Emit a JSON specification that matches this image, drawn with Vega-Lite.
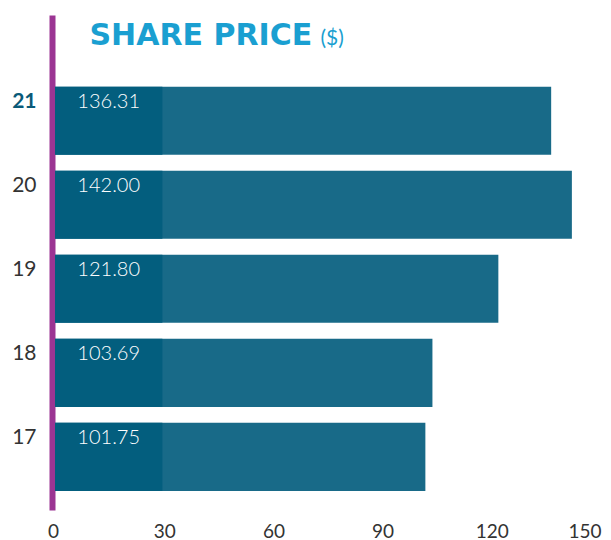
{
  "$schema": "https://vega.github.io/schema/vega-lite/v6.json",
  "autosize": {"type": "none"},
  "width": 546,
  "height": 495,
  "padding": {"left": 55, "top": 15, "right": 10, "bottom": 30},
  "background": "white",
  "config": {
    "view": {"stroke": null},
    "font": "Lato"
  },
  "data": {
    "values": [
      {"year": "21", "price": 136.31},
      {"year": "20", "price": 142.00},
      {"year": "19", "price": 121.80},
      {"year": "18", "price": 103.69},
      {"year": "17", "price": 101.75}
    ]
  },
  "encoding": {
    "y": {
      "field": "year",
      "type": "nominal",
      "sort": null,
      "scale": {"paddingInner": 0.19, "paddingOuter": 0.54, "align": 0.79},
      "axis": {
        "title": "($)",
        "titleAngle": 0,
        "titleX": 268,
        "titleY": 29,
        "titleAlign": "left",
        "titleBaseline": "alphabetic",
        "titleFont": "Lato",
        "titleFontSize": 21,
        "titleFontWeight": "normal",
        "titleColor": "#1a9fd1",
        "offset": 3,
        "domainColor": "#9b3593",
        "domainWidth": 6,
        "ticks": false,
        "tickSize": 0,
        "labelPadding": 16,
        "labelOffset": -19,
        "labelFontSize": 21,
        "labelFont": "Lato",
        "labelColor": {"condition": {"test": "datum.value == '21'", "value": "#0a5a78"}, "value": "#333333"},
        "labelFontWeight": {"condition": {"test": "datum.value == '21'", "value": "bold"}, "value": "normal"}
      }
    }
  },
  "layer": [
    {
      "mark": {"type": "bar", "color": "#186a88"},
      "encoding": {
        "x": {
          "field": "price",
          "type": "quantitative",
          "scale": {"domain": [0, 150], "nice": false},
          "axis": {
            "title": "SHARE PRICE",
            "titleX": 34,
            "titleY": -466,
            "titleAlign": "left",
            "titleBaseline": "alphabetic",
            "titleFont": "DejaVu Sans",
            "titleFontSize": 30,
            "titleFontWeight": "bold",
            "titleColor": "#1a9fd1",
            "values": [0, 30, 60, 90, 120, 150],
            "grid": false,
            "domain": false,
            "ticks": false,
            "tickSize": 0,
            "labelPadding": 12,
            "labelFontSize": 19,
            "labelFont": "Lato",
            "labelColor": "#333333",
            "labelFlush": false,
            "labelBound": false,
            "labelAlign": {"condition": {"test": "datum.value == 150", "value": "right"}, "value": "center"},
            "labelOffset": {"condition": {"test": "datum.value == 0", "value": -2}, "value": 0}
          }
        }
      }
    },
    {
      "mark": {"type": "bar", "color": "#035e7e"},
      "encoding": {
        "x": {"datum": 0},
        "x2": {"datum": 29.5}
      }
    },
    {
      "mark": {"type": "text", "color": "white", "fontSize": 20, "fontWeight": 300, "font": "Lato", "baseline": "middle", "dy": -19},
      "encoding": {
        "x": {"datum": 14.75},
        "text": {"field": "price", "type": "quantitative", "format": ".2f"}
      }
    }
  ]
}
